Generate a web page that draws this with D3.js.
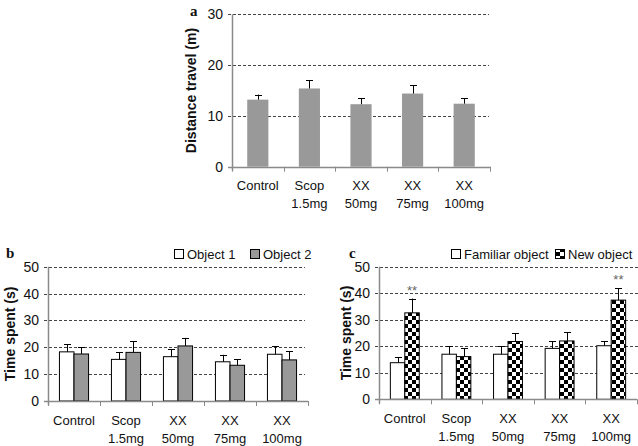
<!DOCTYPE html>
<html><head><meta charset="utf-8">
<script src="https://cdn.jsdelivr.net/npm/d3@7"></script>
<style>body{margin:0;background:#fff}svg{display:block}</style>
</head><body>
<svg id="c" width="638" height="446" font-family="Liberation Sans, Arial, sans-serif"></svg>
<script>
const categories = [["Control"],["Scop","1.5mg"],["XX","50mg"],["XX","75mg"],["XX","100mg"]];
const distMean = [13.2, 15.4, 12.3, 14.4, 12.4];
const distErr  = [1.0, 1.6, 1.2, 1.6, 1.1];
const obj1Mean = [18.3, 15.5, 16.5, 14.6, 17.4];
const obj1Err  = [2.9, 2.7, 2.7, 2.6, 2.9];
const obj2Mean = [17.5, 18.1, 20.5, 13.3, 15.3];
const obj2Err  = [2.5, 4.1, 3.0, 2.3, 3.2];
const famMean  = [13.8, 17.0, 17.0, 19.2, 20.2];
const famErr   = [2.0, 3.0, 3.0, 2.6, 1.8];
const newMean  = [32.6, 16.1, 21.8, 22.0, 37.4];
const newErr   = [5.4, 3.2, 3.2, 3.2, 4.4];
const sig      = ["**", "", "", "", "**"];
const ticksA = [0,10,20,30];
const ticksBC = [0,10,20,30,40,50];

const svg = d3.select("#c");
const defs = svg.append("defs");
const pat = defs.append("pattern").attr("id","chk").attr("patternUnits","userSpaceOnUse")
  .attr("width",8).attr("height",8);
pat.append("rect").attr("width",8).attr("height",8).attr("fill","#fff");
pat.append("rect").attr("width",4).attr("height",4).attr("fill","#000");
pat.append("rect").attr("x",4).attr("y",4).attr("width",4).attr("height",4).attr("fill","#000");

const axisCol = "#8a8a8a";

function panel(o){
  const g = svg.append("g");
  const x = d3.scaleBand().domain(d3.range(5)).range([o.x0,o.x1]).paddingInner(o.pi).paddingOuter(o.po);
  const y = d3.scaleLinear().domain([0,o.max]).range([o.y0,o.yTop]);
  g.selectAll(".grid").data(o.ticks.filter(t=>t>0)).enter().append("line")
    .attr("x1",o.x0-4).attr("x2",o.gridEnd).attr("y1",d=>Math.round(y(d))+0.5).attr("y2",d=>Math.round(y(d))+0.5)
    .attr("stroke","#444").attr("stroke-width",1).attr("stroke-dasharray","3,2");
  g.selectAll(".yl").data(o.ticks).enter().append("text")
    .attr("x",o.x0-9).attr("y",d=>y(d)+5).attr("text-anchor","end")
    .attr("font-size",14).attr("fill","#111").text(d=>d);
  g.append("text").attr("transform",`translate(${o.titleX},${(o.y0+o.yTop)/2}) rotate(-90)`)
    .attr("text-anchor","middle").attr("font-size",14).attr("font-weight","bold").attr("fill","#111").text(o.title);
  const n = o.series.length;
  const bw = x.bandwidth()/n;
  o.series.forEach((s,si)=>{
    s.mean.forEach((m,i)=>{
      const bx = x(i)+si*bw;
      g.append("rect").attr("x",bx).attr("y",y(m)).attr("width",bw).attr("height",y(0)-y(m))
        .attr("fill",s.fill).attr("stroke",s.stroke||"none").attr("stroke-width",1);
      const cx = Math.round(bx+bw/2)+0.5;
      const top = y(m+s.err[i]);
      g.append("line").attr("x1",cx).attr("x2",cx).attr("y1",y(m)).attr("y2",top).attr("stroke","#000");
      g.append("line").attr("x1",cx-3.5).attr("x2",cx+3.5).attr("y1",Math.round(top)+0.5).attr("y2",Math.round(top)+0.5).attr("stroke","#000");
      if(s.sig && s.sig[i]){
        g.append("text").attr("x",bx+bw/2).attr("y",top-4).attr("text-anchor","middle")
          .attr("font-size",13).attr("fill","#666").text(s.sig[i]);
      }
    });
  });
  g.append("line").attr("x1",o.x0+0.5).attr("x2",o.x0+0.5).attr("y1",o.yTop).attr("y2",o.y0+4).attr("stroke",axisCol).attr("stroke-width",1.5);
  g.append("line").attr("x1",o.x0-4).attr("x2",o.x1).attr("y1",Math.round(o.y0)+0.5).attr("y2",Math.round(o.y0)+0.5).attr("stroke",axisCol).attr("stroke-width",1.5);
  d3.range(6).forEach(k=>{
    const tx = Math.round(o.x0 + k*(o.x1-o.x0)/5)+0.5;
    g.append("line").attr("x1",tx).attr("x2",tx).attr("y1",o.y0).attr("y2",o.y0+5).attr("stroke",axisCol).attr("stroke-width",1);
  });
  categories.forEach((c,i)=>{
    const cx = x(i)+x.bandwidth()/2;
    c.forEach((line,li)=>{
      g.append("text").attr("x",cx).attr("y",o.y0+o.labY+li*18).attr("text-anchor","middle")
        .attr("font-size",13).attr("fill","#111").text(line);
    });
  });
  g.append("text").attr("x",o.letter[0]).attr("y",o.letter[1]).attr("font-family","Liberation Serif, serif")
    .attr("font-weight","bold").attr("font-size",15).attr("fill","#111").text(o.letterText);
  if(o.legend){
    o.legend.forEach(L=>{
      g.append("rect").attr("x",L.x+0.5).attr("y",L.y-8.5).attr("width",9).attr("height",9)
        .attr("fill",L.fill).attr("stroke","#000").attr("stroke-width",1);
      g.append("text").attr("x",L.x+13).attr("y",L.y+1).attr("font-size",13).attr("fill","#111").text(L.text);
    });
  }
}

panel({x0:232,x1:490,gridEnd:489,y0:166.7,yTop:14.3,max:30,ticks:ticksA,pi:0.59,po:0.295,
  title:"Distance travel (m)",titleX:196,labY:23,letter:[190,16],letterText:"a",
  series:[{mean:distMean,err:distErr,fill:"#999999"}]});

const chk = "url(#chk)";
panel({x0:48,x1:308,gridEnd:305,y0:401,yTop:266.7,max:50,ticks:ticksBC,pi:0.44,po:0.22,
  title:"Time spent (s)",titleX:15,labY:24,letter:[6,258],letterText:"b",
  series:[{mean:obj1Mean,err:obj1Err,fill:"#ffffff",stroke:"#000"},{mean:obj2Mean,err:obj2Err,fill:"#999999",stroke:"#000"}],
  legend:[{x:174,y:258,fill:"#fff",text:"Object 1"},{x:250,y:258,fill:"#999",text:"Object 2"}]});

panel({x0:379,x1:637,gridEnd:638,y0:399.3,yTop:266.7,max:50,ticks:ticksBC,pi:0.44,po:0.22,
  title:"Time spent (s)",titleX:351,labY:24,letter:[349,258],letterText:"c",
  series:[{mean:famMean,err:famErr,fill:"#ffffff",stroke:"#000"},{mean:newMean,err:newErr,fill:chk,stroke:"#000",sig:sig}],
  legend:[{x:451,y:258,fill:"#fff",text:"Familiar object"},{x:555,y:258,fill:chk,text:"New object"}]});
</script>
</body></html>
